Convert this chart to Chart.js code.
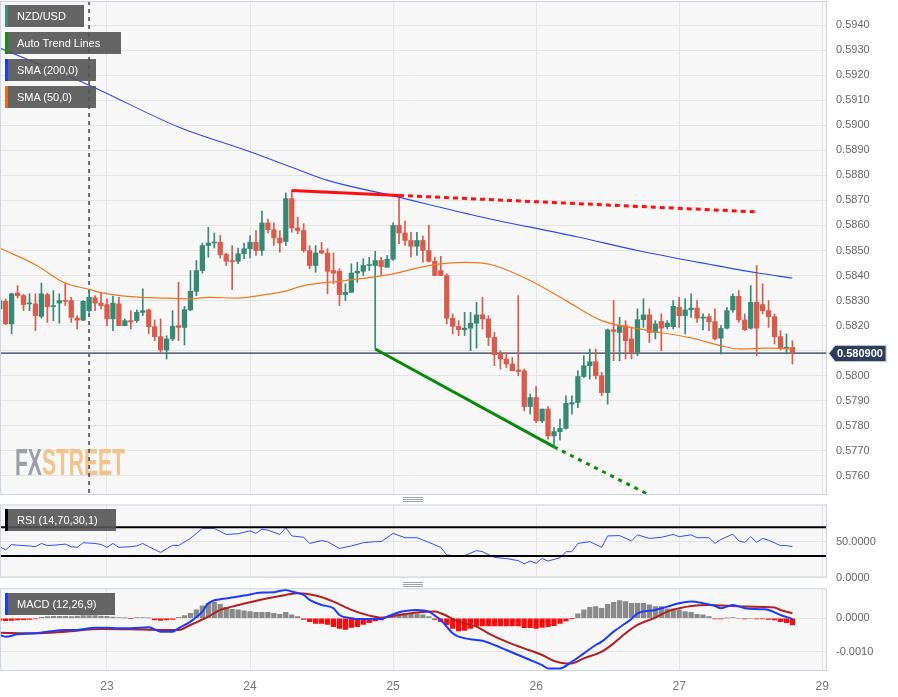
<!DOCTYPE html>
<html>
<head>
<meta charset="utf-8">
<title>NZD/USD</title>
<script src="https://cdn.jsdelivr.net/npm/chart.js@4.4.1/dist/chart.umd.min.js"></script>
<style>
  html, body { margin: 0; padding: 0; background: #fff; }
  #wrap { position: relative; width: 898px; height: 697px; overflow: hidden; font-family: "Liberation Sans", Arial, sans-serif; }
  canvas { position: absolute; left: 0; }
  .tag { position: absolute; left: 5px; height: 22px; line-height: 22px; box-sizing: border-box; padding-left: 9px; border-left: 3px solid; background: rgba(84, 84, 84, 0.9); color: #fff; font-size: 11px; white-space: nowrap; }
  .grip { position: absolute; left: 403px; width: 20px; height: 1px; background: #9ca2ad; }
</style>
</head>
<body>
<div id="wrap">
  <canvas id="priceChart" width="898" height="497" style="top:0"></canvas>
  <canvas id="rsiChart" width="898" height="86" style="top:500px"></canvas>
  <canvas id="macdChart" width="898" height="111" style="top:586px"></canvas>

  <div class="tag" style="top:5px;width:79px;border-color:#3f8f7c">NZD/USD</div>
  <div class="tag" style="top:32px;width:116px;border-color:#168a16">Auto Trend Lines</div>
  <div class="tag" style="top:59px;width:91px;border-color:#1a3cff">SMA (200,0)</div>
  <div class="tag" style="top:86px;width:91px;border-color:#ee6a12">SMA (50,0)</div>
  <div class="tag" style="top:509px;width:111px;border-color:#000">RSI (14,70,30,1)</div>
  <div class="tag" style="top:593px;width:110px;border-color:#1a3cff">MACD (12,26,9)</div>

  <div class="grip" style="top:497px"></div>
  <div class="grip" style="top:499px"></div>
  <div class="grip" style="top:501px"></div>
  <div class="grip" style="top:582px"></div>
  <div class="grip" style="top:584px"></div>
  <div class="grip" style="top:586px"></div>
</div>

<script>
// NZD/USD hourly candles with SMA, trend lines, RSI and MACD panels.

const FONT = '"Liberation Sans", Arial, sans-serif';
const UP = "#378973";
const DOWN = "#d95b4b";

// x axis runs on candle index, one candle per hour
const X_MIN = 0.05;
const X_MAX = 138.8;
const dayTickIdx = [18, 42, 66, 90, 114, 138];
const dayLabels = ["23", "24", "25", "26", "27", "29"];
const sessionLineIdx = 15;

const candleOpen = [
  0.58267, 0.58297, 0.58207, 0.58330, 0.58320, 0.58287, 0.58287, 0.58237, 0.58324, 0.58276,
  0.58290, 0.58300, 0.58300, 0.58230, 0.58222, 0.58260, 0.58311, 0.58290, 0.58284, 0.58227,
  0.58287, 0.58200, 0.58220, 0.58220, 0.58253, 0.58263, 0.58196, 0.58156, 0.58103, 0.58147,
  0.58200, 0.58193, 0.58263, 0.58337, 0.58420, 0.58520, 0.58530, 0.58533, 0.58484, 0.58460,
  0.58457, 0.58487, 0.58507, 0.58533, 0.58500, 0.58610, 0.58583, 0.58550, 0.58536, 0.58707,
  0.58590, 0.58580, 0.58500, 0.58440, 0.58500, 0.58490, 0.58420, 0.58417, 0.58324, 0.58333,
  0.58410, 0.58417, 0.58440, 0.58440, 0.58460, 0.58433, 0.58465, 0.58600, 0.58570, 0.58540,
  0.58517, 0.58540, 0.58500, 0.58457, 0.58420, 0.58400, 0.58230, 0.58197, 0.58184, 0.58190,
  0.58210, 0.58243, 0.58227, 0.58153, 0.58087, 0.58067, 0.58047, 0.58023, 0.58020, 0.57877,
  0.57913, 0.57820, 0.57867, 0.57760, 0.57777, 0.57790, 0.57887, 0.57893, 0.57997, 0.58040,
  0.58056, 0.58000, 0.57933, 0.58184, 0.58173, 0.58200, 0.58147, 0.58093, 0.58224, 0.58243,
  0.58173, 0.58217, 0.58196, 0.58196, 0.58273, 0.58240, 0.58263, 0.58270, 0.58230, 0.58236,
  0.58216, 0.58150, 0.58190, 0.58263, 0.58317, 0.58223, 0.58190, 0.58293, 0.58284, 0.58260,
  0.58236, 0.58156, 0.58110, 0.58113,
];
const candleHigh = [
  0.58313, 0.58306, 0.58330, 0.58360, 0.58325, 0.58327, 0.58327, 0.58370, 0.58330, 0.58340,
  0.58327, 0.58370, 0.58313, 0.58240, 0.58300, 0.58340, 0.58320, 0.58330, 0.58307, 0.58318,
  0.58313, 0.58227, 0.58260, 0.58263, 0.58347, 0.58267, 0.58223, 0.58227, 0.58160, 0.58260,
  0.58373, 0.58277, 0.58420, 0.58460, 0.58530, 0.58593, 0.58570, 0.58560, 0.58490, 0.58520,
  0.58510, 0.58530, 0.58560, 0.58580, 0.58657, 0.58625, 0.58610, 0.58580, 0.58730, 0.58740,
  0.58633, 0.58607, 0.58520, 0.58520, 0.58533, 0.58507, 0.58490, 0.58427, 0.58367, 0.58447,
  0.58453, 0.58467, 0.58473, 0.58497, 0.58473, 0.58480, 0.58610, 0.58720, 0.58617, 0.58573,
  0.58573, 0.58557, 0.58600, 0.58473, 0.58477, 0.58407, 0.58247, 0.58220, 0.58253, 0.58253,
  0.58293, 0.58313, 0.58240, 0.58173, 0.58100, 0.58093, 0.58073, 0.58320, 0.58027, 0.57927,
  0.57957, 0.57867, 0.57877, 0.57793, 0.57827, 0.57920, 0.57920, 0.58020, 0.58080, 0.58107,
  0.58107, 0.58013, 0.58187, 0.58300, 0.58233, 0.58220, 0.58193, 0.58267, 0.58307, 0.58267,
  0.58220, 0.58247, 0.58220, 0.58300, 0.58313, 0.58307, 0.58327, 0.58300, 0.58247, 0.58247,
  0.58267, 0.58200, 0.58273, 0.58327, 0.58340, 0.58247, 0.58360, 0.58440, 0.58367, 0.58300,
  0.58247, 0.58180, 0.58167, 0.58140,
];
const candleLow = [
  0.58187, 0.58204, 0.58167, 0.58310, 0.58260, 0.58260, 0.58180, 0.58230, 0.58213, 0.58220,
  0.58210, 0.58280, 0.58213, 0.58187, 0.58220, 0.58253, 0.58260, 0.58267, 0.58200, 0.58180,
  0.58200, 0.58200, 0.58187, 0.58213, 0.58240, 0.58167, 0.58140, 0.58090, 0.58067, 0.58140,
  0.58140, 0.58123, 0.58260, 0.58320, 0.58410, 0.58473, 0.58510, 0.58470, 0.58440, 0.58344,
  0.58447, 0.58467, 0.58470, 0.58480, 0.58480, 0.58570, 0.58520, 0.58493, 0.58520, 0.58573,
  0.58567, 0.58493, 0.58427, 0.58413, 0.58487, 0.58327, 0.58367, 0.58280, 0.58300, 0.58333,
  0.58373, 0.58400, 0.58420, 0.58107, 0.58400, 0.58433, 0.58460, 0.58527, 0.58520, 0.58473,
  0.58480, 0.58453, 0.58453, 0.58400, 0.58400, 0.58207, 0.58167, 0.58160, 0.58160, 0.58100,
  0.58110, 0.58187, 0.58120, 0.58040, 0.58027, 0.58033, 0.58020, 0.58000, 0.57860, 0.57847,
  0.57813, 0.57813, 0.57747, 0.57720, 0.57743, 0.57787, 0.57847, 0.57873, 0.57993, 0.57987,
  0.57987, 0.57920, 0.57887, 0.58060, 0.58060, 0.58067, 0.58067, 0.58080, 0.58193, 0.58133,
  0.58147, 0.58100, 0.58187, 0.58187, 0.58193, 0.58167, 0.58233, 0.58213, 0.58183, 0.58180,
  0.58143, 0.58087, 0.58187, 0.58253, 0.58213, 0.58180, 0.58187, 0.58080, 0.58247, 0.58193,
  0.58127, 0.58103, 0.58087, 0.58047,
];
const candleClose = [
  0.58300, 0.58207, 0.58327, 0.58320, 0.58284, 0.58290, 0.58240, 0.58327, 0.58276, 0.58280,
  0.58300, 0.58297, 0.58233, 0.58222, 0.58297, 0.58313, 0.58290, 0.58280, 0.58227, 0.58290,
  0.58200, 0.58220, 0.58215, 0.58253, 0.58260, 0.58196, 0.58156, 0.58103, 0.58147, 0.58197,
  0.58193, 0.58264, 0.58337, 0.58420, 0.58520, 0.58530, 0.58533, 0.58484, 0.58457, 0.58455,
  0.58487, 0.58507, 0.58533, 0.58500, 0.58610, 0.58583, 0.58550, 0.58530, 0.58707, 0.58590,
  0.58580, 0.58500, 0.58440, 0.58490, 0.58490, 0.58417, 0.58410, 0.58324, 0.58333, 0.58410,
  0.58417, 0.58440, 0.58443, 0.58460, 0.58436, 0.58465, 0.58600, 0.58570, 0.58540, 0.58517,
  0.58540, 0.58500, 0.58457, 0.58400, 0.58400, 0.58230, 0.58197, 0.58184, 0.58190, 0.58210,
  0.58243, 0.58227, 0.58153, 0.58084, 0.58067, 0.58047, 0.58020, 0.58017, 0.57877, 0.57913,
  0.57820, 0.57867, 0.57760, 0.57777, 0.57790, 0.57890, 0.57893, 0.57997, 0.58040, 0.58056,
  0.58000, 0.57933, 0.58183, 0.58177, 0.58200, 0.58140, 0.58093, 0.58224, 0.58243, 0.58173,
  0.58207, 0.58190, 0.58210, 0.58277, 0.58240, 0.58263, 0.58270, 0.58230, 0.58233, 0.58216,
  0.58147, 0.58189, 0.58260, 0.58317, 0.58223, 0.58184, 0.58293, 0.58190, 0.58260, 0.58236,
  0.58156, 0.58110, 0.58113, 0.58090,
];

// moving averages, read at a handful of candles
const sma200Idx = [0, 15, 30, 42, 50, 55, 66, 80, 97, 107, 119, 127, 133];
const sma200Val = [0.59308, 0.5916, 0.58993, 0.58894, 0.58823, 0.5878, 0.58718, 0.58638, 0.58554, 0.585, 0.58445, 0.58411, 0.5839];
const sma50Idx = [0, 6, 11, 15, 17, 22, 28, 32, 35, 40, 44, 48, 51, 58, 66, 72, 78, 81, 83, 89, 95, 101, 108, 116, 121, 124, 129, 133];
const sma50Val = [0.5851, 0.58443, 0.5837, 0.58345, 0.58332, 0.58316, 0.5831, 0.58307, 0.58313, 0.5831, 0.58322, 0.58338, 0.5836, 0.5838, 0.58407, 0.5844, 0.58453, 0.5845, 0.5844, 0.5838, 0.583, 0.5822, 0.58184, 0.58151, 0.5812, 0.58107, 0.5811, 0.58107];

// auto trend lines: solid part, then the dotted projection
const resistIdx = [49, 67];
const resistVal = [0.5874, 0.5872];
const resistProjIdx = [67, 127];
const resistProjVal = [0.5872, 0.58654];
const supportIdx = [63, 93];
const supportVal = [0.58107, 0.57716];
const supportProjIdx = [93, 109];
const supportProjVal = [0.57716, 0.57524];

const priceTicks = [0.576, 0.577, 0.578, 0.579, 0.58, 0.581, 0.582, 0.583, 0.584, 0.585, 0.586, 0.587, 0.588, 0.589, 0.59, 0.591, 0.592, 0.593, 0.594];

const rsiIdx = [0, 1, 2, 3, 5, 6, 7, 8, 9, 11, 12, 13, 14, 16, 17, 18, 19, 20, 22, 23, 24, 25, 27, 29, 30, 32, 34, 36, 38, 40, 42, 43, 44, 45, 47, 48, 49, 51, 52, 54, 55, 57, 59, 61, 63, 64, 66, 67, 68, 70, 72, 74, 75, 76, 78, 80, 81, 83, 85, 87, 88, 89, 90, 91, 92, 94, 95, 96, 97, 99, 101, 102, 104, 106, 107, 109, 111, 113, 114, 116, 117, 119, 120, 121, 123, 124, 125, 126, 127, 128, 129, 131, 132, 133];
const rsiVal = [43, 38.5, 46, 45, 44, 43, 47.5, 44.5, 45, 46.5, 43, 42, 48.5, 47.5, 46, 42, 47.5, 42, 43, 44, 47.5, 43, 35, 45, 44.5, 54.5, 68.5, 68.5, 60, 61, 65, 61.5, 67.5, 66, 60, 69.5, 58, 56, 47.5, 51.5, 50, 40.5, 44, 48.5, 50, 50, 61.5, 58.5, 55.5, 55.5, 49, 42, 31.5, 30.5, 30.5, 37.5, 36, 28, 26.5, 23.5, 19, 23, 20, 26.5, 23, 27.5, 36, 36, 47.5, 50, 42, 58, 58.5, 51, 59.5, 54.5, 56, 60, 57, 59.5, 55.5, 55.5, 47.5, 53, 60.5, 51, 49, 57, 49, 54.5, 52, 44.5, 44.5, 43];
const rsiBands = [70, 30];
const rsiTicks = [0, 50];

// MACD values in units of 0.0001
const macdIdx = [0, 1, 3, 6, 8, 11, 13, 16, 18, 20, 22, 25, 27, 29, 30, 32, 34, 35, 37, 39, 41, 44, 46, 48, 49, 51, 52, 54, 56, 57, 59, 60, 62, 64, 65, 67, 68, 70, 72, 73, 74, 75, 76, 77, 80, 81, 83, 85, 87, 89, 91, 92, 94, 96, 98, 100, 101, 103, 105, 106, 107, 110, 112, 114, 116, 118, 120, 121, 123, 125, 128, 129, 131, 133];
const macdVal = [-5, -5.5, -4.8, -4.5, -4, -3.5, -3.5, -2.8, -2.8, -3, -3, -2.7, -4, -4, -3, -1, 2, 4.5, 5.7, 6.2, 6.8, 7.7, 7.8, 8.5, 8, 7, 5.5, 4, 3, 1, 0, -0.2, -0.2, -0.2, 0.5, 1.8, 2.2, 2.5, 2, 0.8, -0.5, -2.5, -4.5, -5.5, -6.5, -6.7, -8, -9.5, -11, -12.5, -14, -15, -15, -13, -10.5, -8, -7, -4, -1.5, -0.2, 1.5, 2.5, 3.5, 4.5, 5, 4.5, 3.7, 3, 4, 3, 2.7, 2.5, 1, -0.2];
const signalIdx = [0, 6, 11, 17, 22, 27, 30, 32, 35, 37, 39, 42, 45, 48, 50, 53, 56, 59, 62, 64, 67, 70, 73, 74, 77, 80, 82, 85, 88, 91, 93, 95, 96, 98, 101, 103, 105, 107, 110, 112, 114, 116, 119, 121, 123, 125, 128, 130, 131, 133];
const signalVal = [-4.3, -4.5, -4, -3.2, -3.3, -3.5, -3.5, -2, 0.5, 2.5, 3.5, 4.8, 6, 7, 7.5, 6.8, 5, 2.5, 0.8, 0.2, 1, 1.7, 2, 1.5, -1, -2.5, -4.5, -7, -9, -11, -12.8, -13.5, -13.5, -12, -10, -7.5, -4.5, -2, 0.2, 2, 3, 3.7, 4, 3.8, 3.7, 3.5, 3.4, 3.2, 2.5, 1.5];
const histVal = [
  -0.6, -0.7, -0.6, -0.5, -0.4, -0.3, -0.2,
  0.3, 0.5, 0.6, 0.6, 0.6, 0.5, 0.7, 0.8, 0.8, 0.8, 0.7, 0.6, 0.4,
  0.2, 0.1, -0.1, 0.2, 0.2, 0.1,
  -0.5, -0.6, -0.5, -0.3,
  0.3, 0.8, 1.5, 2.5, 3.7, 4.5, 4.8, 4.2, 3.3, 2.7, 2.5, 2.2, 2.0, 1.8, 1.8, 1.8, 1.5, 1.2, 1.8, 1.0, 0.5,
  -0.3, -1.0, -1.5, -1.5, -1.8, -2.5, -3.0, -3.3, -2.7, -2.5, -1.8, -1.3, -0.8, -0.5,
  0.2, 1.0, 1.3, 1.5, 1.3, 1.3, 1.0, 0.5,
  -0.3, -1.0, -2.0, -3.0, -3.8, -3.6, -3.0, -2.3, -2.3, -2.3, -2.3, -2.3, -2.3, -2.3, -2.3, -2.8, -2.8, -3.0, -2.7, -2.5, -2.2, -1.5, -0.8, -0.1,
  1.3, 2.5, 3.3, 3.5, 3.0, 4.2, 4.8, 5.3, 5.0, 4.5, 4.5, 4.5, 4.0, 3.5, 3.5, 2.8, 2.8, 2.5, 2.0, 1.8, 1.2, 1.0, 0.5,
  -0.2, -0.2, 0.1, 0.2, 0, -0.2, 0, -0.2, -0.2, -0.3, -0.5, -1.0, -1.3, -2.0,
];
const macdTicks = [-0.001, 0];
const MACD_UNIT = 0.0001;

const candleIdx = candleClose.map((_, i) => i);
const lastClose = candleClose[candleClose.length - 1];

const pts = (xs, ys, k = 1) => xs.map((x, n) => ({ x, y: ys[n] * k }));

const lineSet = (data, color, width, extra = {}) => ({
  type: "line",
  data,
  borderColor: color,
  borderWidth: width,
  pointRadius: 0,
  fill: false,
  ...extra,
});

// scales keep the chart area where the layout padding puts it
const noPad = (s) => {
  s.paddingTop = 0;
  s.paddingBottom = 0;
  s.paddingLeft = 0;
  s.paddingRight = 0;
};

const dayAxis = (showLabels) => ({
  type: "linear",
  min: X_MIN,
  max: X_MAX,
  offset: false,
  afterBuildTicks: (s) => { s.ticks = dayTickIdx.map((v) => ({ value: v })); },
  afterFit: (s) => { s.height = showLabels ? 26 : 0; noPad(s); },
  grid: { color: "#e4e4e4", drawTicks: false, offset: false },
  border: { display: false },
  ticks: {
    display: showLabels,
    color: "#777",
    padding: 8,
    autoSkip: false,
    maxRotation: 0,
    font: { size: 12, family: FONT },
    callback: (v, idx) => dayLabels[idx],
  },
});

const rightAxis = (min, max, tickVals, digits) => ({
  position: "right",
  min,
  max,
  afterBuildTicks: (s) => { s.ticks = tickVals.map((v) => ({ value: v })); },
  afterFit: (s) => { s.width = 71; noPad(s); },
  grid: { color: "#e4e4e4", drawTicks: false },
  border: { display: false },
  ticks: {
    color: "#666",
    padding: 9,
    font: { size: 11, family: FONT },
    callback: (v) => Number(v).toFixed(digits),
  },
});

// light panel behind the plot and a thin frame around it
const panelPlugin = {
  id: "panel",
  beforeDraw(chart) {
    const { ctx, chartArea: a } = chart;
    ctx.save();
    ctx.fillStyle = "#f7f7f7";
    ctx.fillRect(a.left, a.top, a.width, a.height);
    ctx.restore();
  },
  afterDraw(chart) {
    const { ctx, chartArea: a } = chart;
    ctx.save();
    ctx.strokeStyle = "#ccd3e1";
    ctx.lineWidth = 1;
    ctx.strokeRect(a.left + 0.5, a.top + 0.5, a.width - 1, a.height - 1);
    ctx.restore();
  },
};

const watermarkPlugin = {
  id: "watermark",
  beforeDatasetsDraw(chart) {
    const { ctx } = chart;
    ctx.save();
    ctx.translate(15, 475);
    ctx.scale(0.585, 1);
    ctx.font = "bold 36px " + FONT;
    ctx.textBaseline = "alphabetic";
    ctx.fillStyle = "#9c9ea8";
    ctx.fillText("FX", 0, 0);
    const w = ctx.measureText("FX").width;
    ctx.fillStyle = "#f3c38b";
    ctx.fillText("STREET", w, 0);
    ctx.restore();
  },
};

const priceTagPlugin = {
  id: "priceTag",
  afterDraw(chart) {
    const { ctx } = chart;
    const y = Math.round(chart.scales.y.getPixelForValue(lastClose)) + 0.5;
    ctx.save();
    ctx.beginPath();
    ctx.moveTo(829, y);
    ctx.lineTo(835, y - 8);
    ctx.lineTo(886, y - 8);
    ctx.lineTo(886, y + 8);
    ctx.lineTo(835, y + 8);
    ctx.closePath();
    ctx.fillStyle = "#2c3d5c";
    ctx.fill();
    ctx.strokeStyle = "#b9c3d4";
    ctx.lineWidth = 1;
    ctx.stroke();
    ctx.fillStyle = "#fff";
    ctx.font = "bold 11px " + FONT;
    ctx.textBaseline = "middle";
    ctx.fillText(lastClose.toFixed(6), 837, y + 0.5);
    ctx.restore();
  },
};

const baseOptions = (padding) => ({
  responsive: false,
  animation: false,
  events: [],
  layout: { padding },
  plugins: { legend: { display: false }, tooltip: { enabled: false } },
});

const renderPrice = () => {
  const PRICE_MIN = 0.57524;
  const PRICE_MAX = 0.59496;
  const colors = candleIdx.map((i) => (candleClose[i] >= candleOpen[i] ? UP : DOWN));

  new Chart(document.getElementById("priceChart"), {
    type: "bar",
    data: {
      datasets: [
        lineSet([{ x: X_MIN, y: lastClose }, { x: X_MAX, y: lastClose }], "#2a3a5a", 1.3, { order: 10 }),
        lineSet([{ x: sessionLineIdx, y: PRICE_MAX }, { x: sessionLineIdx, y: PRICE_MIN }], "#666", 2, { borderDash: [4, 4], order: 9 }),
        {
          type: "bar",
          data: candleIdx.map((i) => ({ x: i, y: [candleLow[i], candleHigh[i]] })),
          backgroundColor: colors,
          barThickness: 1,
          grouped: false,
          order: 6,
        },
        {
          type: "bar",
          data: candleIdx.map((i) => ({ x: i, y: [candleOpen[i], candleClose[i]] })),
          backgroundColor: colors,
          barThickness: 4.6,
          minBarLength: 1,
          grouped: false,
          borderSkipped: false,
          order: 5,
        },
        lineSet(pts(sma50Idx, sma50Val), "#f07a22", 1.2, { cubicInterpolationMode: "monotone", order: 4 }),
        lineSet(pts(sma200Idx, sma200Val), "#2b4af2", 1.1, { cubicInterpolationMode: "monotone", order: 3 }),
        lineSet(pts(resistIdx, resistVal), "#ff1010", 3, { order: 1 }),
        lineSet(pts(resistProjIdx, resistProjVal), "#ff1010", 3, { borderDash: [5, 4], order: 1 }),
        lineSet(pts(supportIdx, supportVal), "#0a8a0a", 3, { order: 1 }),
        lineSet(pts(supportProjIdx, supportProjVal), "#0a8a0a", 3, { borderDash: [4, 5], order: 1 }),
      ],
    },
    options: {
      ...baseOptions({ top: 1, bottom: 2, left: 0, right: 0 }),
      scales: {
        x: dayAxis(false),
        y: rightAxis(PRICE_MIN, PRICE_MAX, priceTicks, 4),
      },
    },
    plugins: [panelPlugin, watermarkPlugin, priceTagPlugin],
  });
};

const renderRsi = () => {
  new Chart(document.getElementById("rsiChart"), {
    type: "line",
    data: {
      datasets: [
        lineSet([{ x: X_MIN, y: rsiBands[0] }, { x: X_MAX, y: rsiBands[0] }], "#000", 2),
        lineSet([{ x: X_MIN, y: rsiBands[1] }, { x: X_MAX, y: rsiBands[1] }], "#000", 2),
        lineSet(pts(rsiIdx, rsiVal), "#3050ff", 1),
      ],
    },
    options: {
      ...baseOptions({ top: 4.5, bottom: 8.5, left: 0, right: 0 }),
      scales: {
        x: dayAxis(false),
        y: rightAxis(0, 101.8, rsiTicks, 4),
      },
    },
    plugins: [panelPlugin],
  });
};

const renderMacd = () => {
  new Chart(document.getElementById("macdChart"), {
    type: "bar",
    data: {
      datasets: [
        {
          type: "bar",
          data: candleIdx.map((i) => ({ x: i, y: histVal[i] * MACD_UNIT })),
          backgroundColor: histVal.map((v) => (v >= 0 ? "#8a8a8a" : "#ff0a0a")),
          barThickness: 4.6,
          grouped: false,
          order: 5,
        },
        lineSet(pts(signalIdx, signalVal, MACD_UNIT), "#b3201e", 2, { cubicInterpolationMode: "monotone", order: 2 }),
        lineSet(pts(macdIdx, macdVal, MACD_UNIT), "#1a3cff", 2, { cubicInterpolationMode: "monotone", order: 1 }),
      ],
    },
    options: {
      ...baseOptions({ top: 2.3, bottom: 0, left: 0, right: 0 }),
      scales: {
        x: dayAxis(true),
        y: rightAxis(-0.001578, 0.000898, macdTicks, 4),
      },
    },
    plugins: [panelPlugin],
  });
};

document.addEventListener("DOMContentLoaded", () => {
  renderPrice();
  renderRsi();
  renderMacd();
});
</script>
</body>
</html>
